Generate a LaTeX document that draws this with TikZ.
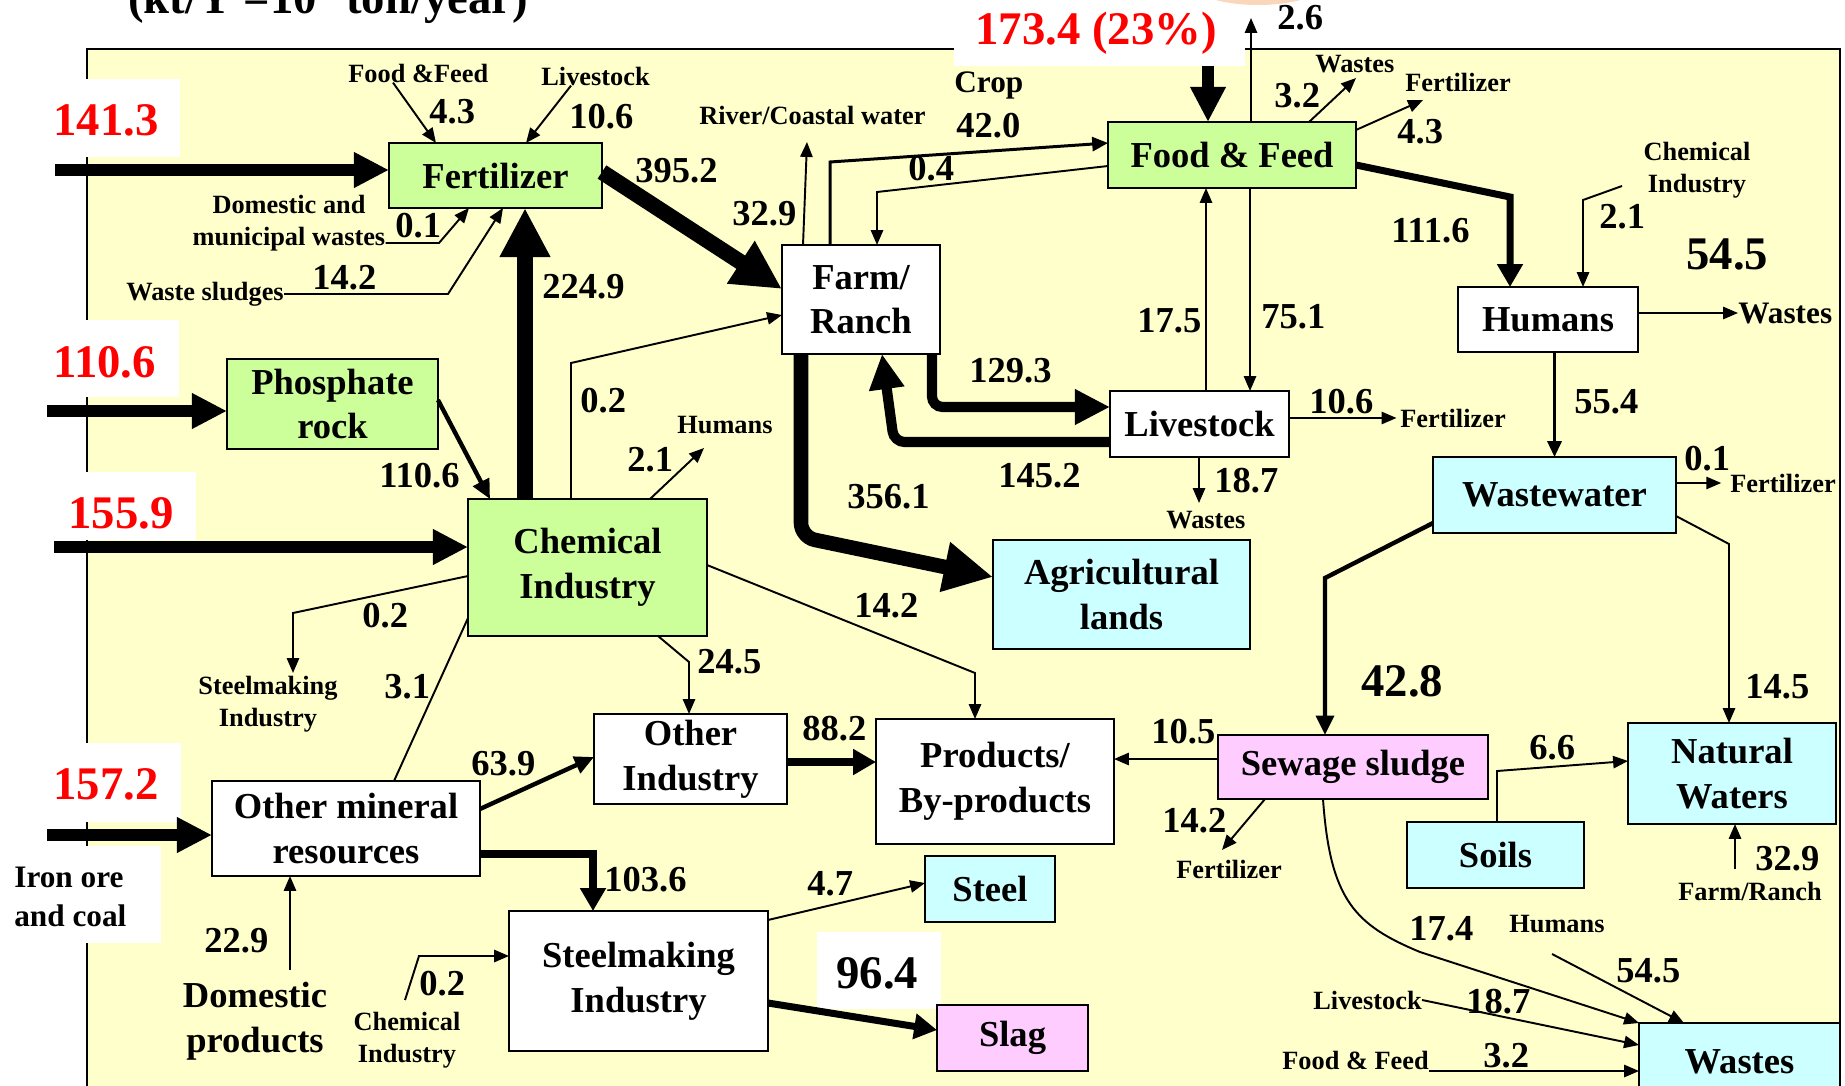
\documentclass[tikz,border=0pt]{standalone}
\usepackage{fontspec}
\setmainfont{Liberation Serif}
\usepackage{tikz}
\usetikzlibrary{arrows.meta,calc}
\definecolor{paleyellow}{HTML}{FFFFCC}
\definecolor{palegreen}{HTML}{CCFF99}
\definecolor{palecyan}{HTML}{CCFFFF}
\definecolor{palepink}{HTML}{FFCCFF}
\definecolor{flowred}{HTML}{FF0000}
\definecolor{peach}{RGB}{250,214,186}
\newcommand\fsml{\fontsize{15pt}{18.5pt}\selectfont\bfseries}
\newcommand\fmid{\fontsize{17.8pt}{22pt}\selectfont\bfseries}
\newcommand\fnrm{\fontsize{20.8pt}{25.4pt}\selectfont\bfseries}
\newcommand\fbig{\fontsize{26.6pt}{30pt}\selectfont\bfseries}

\begin{document}
\begin{tikzpicture}[x=0.02cm,y=-0.02cm,
		box/.style={draw,line width=1.1pt,inner sep=0pt,outer sep=0pt,align=center,font=\fnrm},
		chem/.style={box,fill=palegreen},
		sink/.style={box,fill=palecyan},
		residue/.style={box,fill=palepink},
		plain/.style={box,fill=white},
		num/.style={inner sep=0pt,font=\fnrm,anchor=base west},
		tag/.style={inner sep=0pt,font=\fsml,align=center},
		bignum/.style={inner sep=0pt,font=\fbig,anchor=base west},
		redin/.style={bignum,text=flowred},
		flow/.style={line width=1.1pt,-{Triangle[length=8.5pt,width=7pt]}},
		flowt/.style={line width=1.7pt,-{Triangle[length=9pt,width=8pt]}},
		flowm/.style={line width=2.5pt,-{Triangle[length=11pt,width=10pt]}},
		flowb/.style={line width=4pt,-{Triangle[length=13pt,width=14pt]}},
		flowx/.style={line width=6.8pt,-{Triangle[length=20pt,width=19pt]}},
		flowxx/.style={line width=9pt,-{Triangle[length=28pt,width=27pt]}},
		]
		\useasboundingbox (0,0) rectangle (1845,1085);
		\fill[paleyellow] (87,49) rectangle (1840,1100);
		\draw[line width=1pt] (87,1100) -- (87,49) -- (1840,49) -- (1840,1100);

		% white patches behind the inputs
		\fill[white] (35,79) rectangle (180,157);
		\fill[white] (35,320) rectangle (179,397);
		\fill[white] (35,472) rectangle (196,540);
		\fill[white] (35,743) rectangle (181,822);
		\fill[white] (0,846) rectangle (161,943);
		\fill[white] (954,0) rectangle (1245,66);
		\fill[white] (817,932) rectangle (941,1009);
		\fill[peach] (1258,-28) ellipse [x radius=80, y radius=33];

		\node[bignum] (title) at (128,13) {(kt/Y =10\textsuperscript{3} ton/year)};

		\node[chem,minimum width=4.26cm,minimum height=1.30cm] (fert) at (495.5,175.5) {Fertilizer};
		\node[chem,minimum width=4.22cm,minimum height=1.80cm] (rock) at (332.5,404) {Phosphate\\rock};
		\node[chem,minimum width=4.78cm,minimum height=2.74cm] (chem) at (587.5,567.5) {Chemical\\Industry};
		\node[plain,minimum width=3.16cm,minimum height=2.18cm] (farm) at (861,299.5) {Farm/\\Ranch};
		\node[chem,minimum width=4.96cm,minimum height=1.32cm] (food) at (1232,155) {Food \& Feed};
		\node[plain,minimum width=3.60cm,minimum height=1.30cm] (hum) at (1548,319.5) {Humans};
		\node[plain,minimum width=3.58cm,minimum height=1.32cm] (live) at (1199.5,424) {Livestock};
		\node[sink,minimum width=4.86cm,minimum height=1.52cm] (wwater) at (1554.5,495) {Wastewater};
		\node[sink,minimum width=5.14cm,minimum height=2.18cm] (agri) at (1121.5,594.5) {Agricultural\\lands};
		\node[plain,minimum width=3.86cm,minimum height=1.80cm] (othind) at (690.5,759) {Other\\Industry};
		\node[plain,minimum width=4.76cm,minimum height=2.50cm] (prod) at (995,781.5) {Products/\\By-products};
		\node[residue,minimum width=5.40cm,minimum height=1.28cm] (sludge) at (1353,767) {Sewage sludge};
		\node[sink,minimum width=4.16cm,minimum height=2.02cm] (natw) at (1732,773.5) {Natural\\Waters};
		\node[sink,minimum width=3.54cm,minimum height=1.32cm] (soils) at (1495.5,855) {Soils};
		\node[sink,minimum width=4.02cm,minimum height=1.54cm] (wastes) at (1739.5,1061.5) {Wastes};
		\node[plain,minimum width=5.36cm,minimum height=1.90cm] (othmin) at (346,828.5) {Other mineral\\resources};
		\node[plain,minimum width=5.18cm,minimum height=2.80cm] (steelind) at (638.5,981) {Steelmaking\\Industry};
		\node[sink,minimum width=2.60cm,minimum height=1.32cm] (steel) at (990,889) {Steel};
		\node[residue,minimum width=3.02cm,minimum height=1.32cm] (slag) at (1012.5,1038) {Slag};

		% free texts
		\node[tag,anchor=base west] (ffin) at (348,82) {Food \&Feed};
		\node[tag,anchor=base west] (lvin) at (541,85) {Livestock};
		\node[tag] (dmw) at (289,223) {Domestic and\\municipal wastes};
		\node[tag,anchor=base west] (wsl) at (126,300) {Waste sludges};
		\node[tag,anchor=base west] (rcw) at (699,124) {River/Coastal water};
		\node[tag,anchor=base west,font=\fmid] (crop) at (954,92) {Crop};
		\node[tag,anchor=base west] (fdw) at (1315,72) {Wastes};
		\node[tag,anchor=base west] (fdf) at (1405,91) {Fertilizer};
		\node[tag] (chhum) at (1697,170) {Chemical\\Industry};
		\node[tag,anchor=base west,font=\fmid] (humw) at (1738,323) {Wastes};
		\node[tag,anchor=base west] (wwf) at (1730,492) {Fertilizer};
		\node[tag,anchor=base west] (lvf) at (1400,427) {Fertilizer};
		\node[tag,anchor=base west] (lvw) at (1166,528) {Wastes};
		\node[tag,anchor=base west] (chh) at (677,433) {Humans};
		\node[tag] (chsm) at (268,704) {Steelmaking\\Industry};
		\node[tag] (chst) at (407,1040) {Chemical\\Industry};
		\node[box,draw=none] (dprod) at (255,1021) {Domestic\\products};
		\node[tag,anchor=west,font=\fmid,align=left] (iron) at (14,897) {Iron ore\\and coal};
		\node[tag,anchor=base west] (slf) at (1176,878) {Fertilizer};
		\node[tag,anchor=base west] (nwfr) at (1678,900) {Farm/Ranch};
		\node[tag,anchor=base west] (whum) at (1509,932) {Humans};
		\node[tag,anchor=base west] (wlv) at (1313,1009) {Livestock};
		\node[tag,anchor=base west] (wfd) at (1282,1069) {Food \& Feed};

		% free ends
		\coordinate (in1) at (55,170);
		\coordinate (in2) at (47,411);
		\coordinate (in3) at (54,547);
		\coordinate (in4) at (47,835);
		\coordinate (in5) at (1208,66);
		\coordinate (rcwend) at (807,142);
		\coordinate (upend) at (1251,18);
		\coordinate (chhend) at (704,448);
		\coordinate (smend) at (293,673);
		\coordinate (dpstart) at (290,970);
		\coordinate (ststart) at (405,1000);
		\coordinate (nwstart) at (1735,869);
		\coordinate (whstart) at (1552,954);

		% inputs
		\draw[flowx] (in1) -- (in1 -| fert.west);
		\draw[flowx] (in2) -- (in2 -| rock.west);
		\draw[flowx] (in3) -- (in3 -| chem.west);
		\draw[flowx] (in4) -- (in4 -| othmin.west);
		\draw[flowx] (in5) -- (in5 |- food.north);
		\node[redin] (r1) at (53,135) {141.3};
		\node[redin] (r2) at (53,377) {110.6};
		\node[redin] (r3) at (68,528) {155.9};
		\node[redin] (r4) at (53,799) {157.2};
		\node[redin] (r5) at (975,44) {173.4 (23\%)};

		% fertilizer
		\draw[flowxx] (fert.east |- 0,172) -- (farm.west |- 0,289);
		\draw[flowxx] (chem.north -| 525,0) -- (fert.south -| 525,0);
		\draw[flowm] (rock.east |- 0,400) -- (chem.north -| 490,0);
		\draw[flow] (ffin.south -| 393,0) -- (fert.north -| 436,0);
		\draw[flow] (lvin.south -| 571,0) -- (fert.north -| 526,0);
		\draw[flow] (dmw.east |- 0,243) -- (439,243) -- (fert.south -| 469,0);
		\draw[flow] (wsl.east |- 0,294) -- (448,294) -- (fert.south -| 503,0);
		\node[num] at (429,123) {4.3};
		\node[num] at (569,128) {10.6};
		\node[num] at (395,237) {0.1};
		\node[num] at (312,289) {14.2};
		\node[num] at (542,298) {224.9};
		\node[num] at (635,182) {395.2};
		\node[num] at (379,487) {110.6};

		% farm / food / livestock
		\draw[flow] (farm.north -| 803,0) -- (rcwend);
		\draw[flowt] (farm.north -| 830,0) -- (830,162) -- (food.west |- 0,143);
		\draw[flow] (food.west |- 0,166) -- (877,192) -- (farm.north -| 877,0);
		\draw[flow] (food.north -| upend) -- (upend);
		\draw[flow] (food.north -| 1309,0) -- (1356,78);
		\draw[flow] (food.east |- 0,130) -- (1423,100);
		\draw[flowb] (food.east |- 0,165) -- (1510,197) -- (hum.north -| 1510,0);
		\draw[flow] (live.north -| 1206,0) -- (food.south -| 1206,0);
		\draw[flow] (food.south -| 1250,0) -- (live.north -| 1250,0);
		\draw[flowx,line width=5.8pt,rounded corners=6pt] (farm.south -| 932,0) -- (932,407) -- (live.west |- 0,407);
		\draw[flowx,line width=5.8pt,rounded corners=6pt] (live.west |- 0,442) -- (894,442) -- (farm.south -| 882,0);
		\draw[flowxx,line width=8.3pt,rounded corners=8pt] (farm.south -| 801,0) -- (801,537) -- (agri.west |- 0,577);
		\draw[flow] (live.south -| 1199,0) -- (1199,503);
		\draw[flow] (live.east |- lvf.west) -- ([xshift=-2pt]lvf.west);
		\node[num] at (732,225) {32.9};
		\node[num] at (956,137) {42.0};
		\node[num] at (908,180) {0.4};
		\node[num] at (1277,30) {2.6};
		\node[num] at (1274,107) {3.2};
		\node[num] at (1397,143) {4.3};
		\node[num] at (1391,242) {111.6};
		\node[num] at (1137,332) {17.5};
		\node[num] at (1261,328) {75.1};
		\node[num] at (969,382) {129.3};
		\node[num] at (998,487) {145.2};
		\node[num] at (847,508) {356.1};
		\node[num] at (1214,492) {18.7};
		\node[num] at (1309,413) {10.6};

		% humans / wastewater
		\draw[flow] (1622,186) -- (1583,200) -- (hum.north -| 1583,0);
		\draw[flow] (hum.east |- humw.west) -- (humw.west);
		\draw[flowt] (hum.south -| wwater.north) -- (wwater.north);
		\draw[flow] (wwater.east |- wwf.west) -- ([xshift=-5pt]wwf.west);
		\draw[flowm] (wwater.west |- 0,523) -- (1325,578) -- (sludge.north -| 1325,0);
		\draw[flow] (wwater.east |- 0,516) -- (1729,544) -- (natw.north -| 1729,0);
		\node[num] at (1599,228) {2.1};
		\node[bignum] at (1686,269) {54.5};
		\node[num] at (1574,413) {55.4};
		\node[num] at (1684,470) {0.1};
		\node[bignum] at (1361,696) {42.8};
		\node[num] at (1745,698) {14.5};

		% chemical industry
		\draw[flow] (chem.north -| 571,0) -- (571,363) -- (farm.west |- 0,315);
		\draw[flow] (chem.north -| 650,0) -- (chhend);
		\draw[flow] (chem.west |- 0,576) -- (293,613) -- (smend);
		\draw[line width=1.1pt] (othmin.north -| 394,0) -- (chem.west |- 0,618);
		\draw[flow] (chem.south -| 658,0) -- (689,662) -- (othind.north -| 689,0);
		\draw[flow] (chem.east |- 0,565) -- (975,673) -- (prod.north -| 975,0);
		\node[num] at (580,412) {0.2};
		\node[num] at (627,471) {2.1};
		\node[num] at (362,627) {0.2};
		\node[num] at (384,698) {3.1};
		\node[num] at (697,673) {24.5};
		\node[num] at (854,617) {14.2};

		% minerals and steel
		\draw[flowm] (othmin.east |- 0,809) -- (othind.west |- 0,757);
		\draw[flowb] (othmin.east |- 0,854) -- (593,854) -- (steelind.north -| 593,0);
		\draw[flow] (dpstart) -- (othmin.south -| dpstart);
		\draw[flow] (ststart) -- (419,956) -- (steelind.west |- 0,956);
		\draw[flowb] (othind.east |- 0,762) -- (prod.west |- 0,762);
		\draw[flow] (steelind.east |- 0,920) -- (steel.west |- 0,883);
		\draw[flowb] (steelind.east |- 0,1003) -- (slag.west |- 0,1030);
		\node[num] at (471,775) {63.9};
		\node[num] at (604,891) {103.6};
		\node[num] at (204,952) {22.9};
		\node[num] at (419,995) {0.2};
		\node[num] at (802,740) {88.2};
		\node[num] at (807,895) {4.7};
		\node[bignum] at (836,988) {96.4};

		% sewage sludge and sinks
		\draw[flow] (sludge.west |- 0,759) -- (prod.east |- 0,759);
		\draw[flow] (sludge.south -| 1265,0) -- (1222,850);
		\draw[flow] (sludge.south -| 1323,0) .. controls (1330,900) and (1355,925) .. (1420,952) -- (wastes.north west);
		\draw[flow] (whstart) -- (wastes.north -| 1684,0);
		\draw[flow] (wlv.east) -- (wastes.west |- 0,1045);
		\draw[flow] (wfd.east |- 0,1071) -- (wastes.west |- 0,1071);
		\draw[flow] (soils.north -| 1497,0) -- (1497,771) -- (natw.west |- 0,761);
		\draw[flow] (nwstart) -- (natw.south -| nwstart);
		\node[num] at (1151,743) {10.5};
		\node[num] at (1162,832) {14.2};
		\node[num] at (1409,940) {17.4};
		\node[num] at (1616,982) {54.5};
		\node[num] at (1466,1013) {18.7};
		\node[num] at (1483,1067) {3.2};
		\node[num] at (1529,759) {6.6};
		\node[num] at (1755,870) {32.9};
\end{tikzpicture}
\end{document}
